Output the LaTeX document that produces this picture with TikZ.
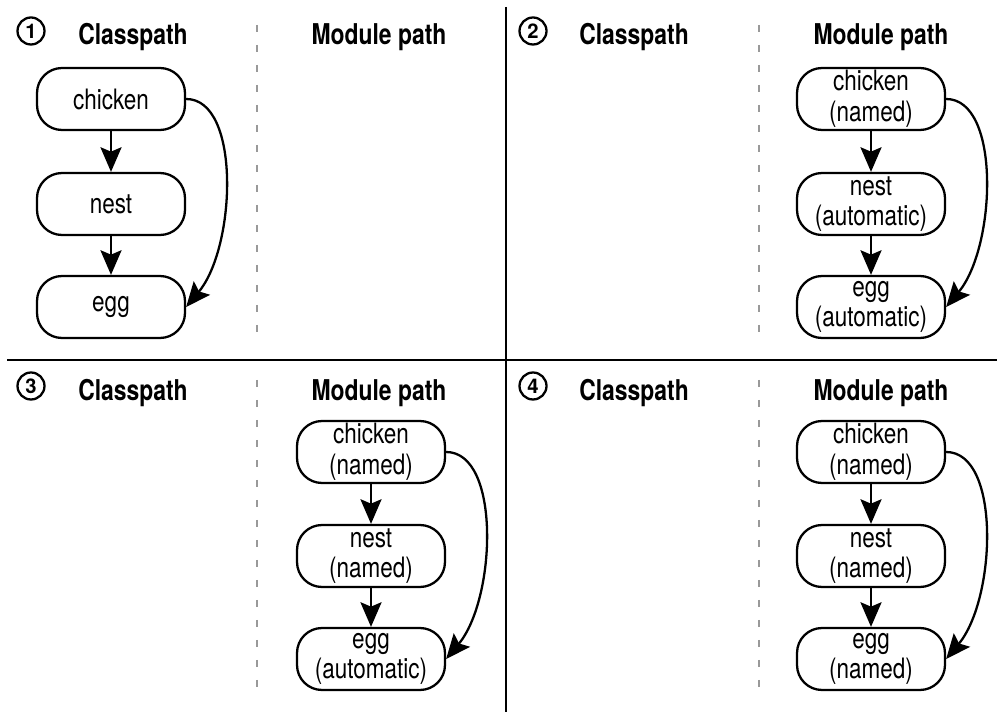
\documentclass[tikz,border=0pt]{standalone}
\usepackage{fontspec}
\setmainfont{TeX Gyre Heros}[FakeStretch=0.8]
\newfontfamily\digitfont{TeX Gyre Heros}
\usetikzlibrary{arrows.meta}

\begin{document}
\begin{tikzpicture}[x=0.02cm,y=-0.02cm,line join=round,
  eggbox/.style={draw,line width=1.3pt,rounded corners=0.5cm,minimum width=2.96cm,
    minimum height=1.24cm,inner sep=0pt,align=center,font=\fontsize{16}{17.5}\selectfont},
  head/.style={anchor=base,font=\fontsize{16.3}{18}\selectfont\bfseries},
  num/.style={draw,circle,line width=1.3pt,minimum size=0.54cm,inner sep=0pt,
    font=\digitfont\fontsize{11.5}{12}\selectfont\bfseries},
  link/.style={line width=1.3pt,-{Stealth[length=14pt,width=12pt,inset=2.5pt]}},
  split/.style={line width=1.3pt},
  lane/.style={draw=gray!80,line width=0.8pt,dash pattern=on 0.14cm off 0.26cm}]
  \useasboundingbox (0,0) rectangle (997,712);
  % dividers
  \draw[split] (7,360) -- (997,360);
  \draw[split] (506,7) -- (506,712);
  \draw[lane] (257,25) -- (257,340);
  \draw[lane] (759,25) -- (759,340);
  \draw[lane] (257,380) -- (257,695);
  \draw[lane] (759,380) -- (759,695);
  % headings
  \foreach \k/\x/\y in {1/31/31,2/533/31,3/31/386,4/533/386} {
    \node[num] (k\k) at (\x,\y) {\k};
  }
  \node[head] (cp1) at (133,45) {Classpath};
  \node[head] (mp1) at (379,45) {Module path};
  \node[head] (cp2) at (634,45) {Classpath};
  \node[head] (mp2) at (881,45) {Module path};
  \node[head] (cp3) at (133,401) {Classpath};
  \node[head] (mp3) at (379,401) {Module path};
  \node[head] (cp4) at (634,401) {Classpath};
  \node[head] (mp4) at (881,401) {Module path};
  % 1
  \node[eggbox] (c1) at (111,99) {chicken};
  \node[eggbox] (n1) at (111,204) {nest};
  \node[eggbox] (e1) at (111,307) {egg};
  % 2
  \node[eggbox] (c2) at (871,99) {chicken\\(named)};
  \node[eggbox] (n2) at (871,204) {nest\\(automatic)};
  \node[eggbox] (e2) at (871,307) {egg\\(automatic)};
  % 3
  \node[eggbox] (c3) at (371,452) {chicken\\(named)};
  \node[eggbox] (n3) at (371,556) {nest\\(named)};
  \node[eggbox] (e3) at (371,659) {egg\\(automatic)};
  % 4
  \node[eggbox] (c4) at (871,452) {chicken\\(named)};
  \node[eggbox] (n4) at (871,556) {nest\\(named)};
  \node[eggbox] (e4) at (871,659) {egg\\(named)};
  \foreach \p in {1,2,3,4} {
    \draw[link] (c\p) -- (n\p);
    \draw[link] (n\p) -- (e\p);
    \draw[link] (c\p.east) .. controls +(55,0) and +(50,-60) .. (e\p.east);
  }
\end{tikzpicture}
\end{document}
